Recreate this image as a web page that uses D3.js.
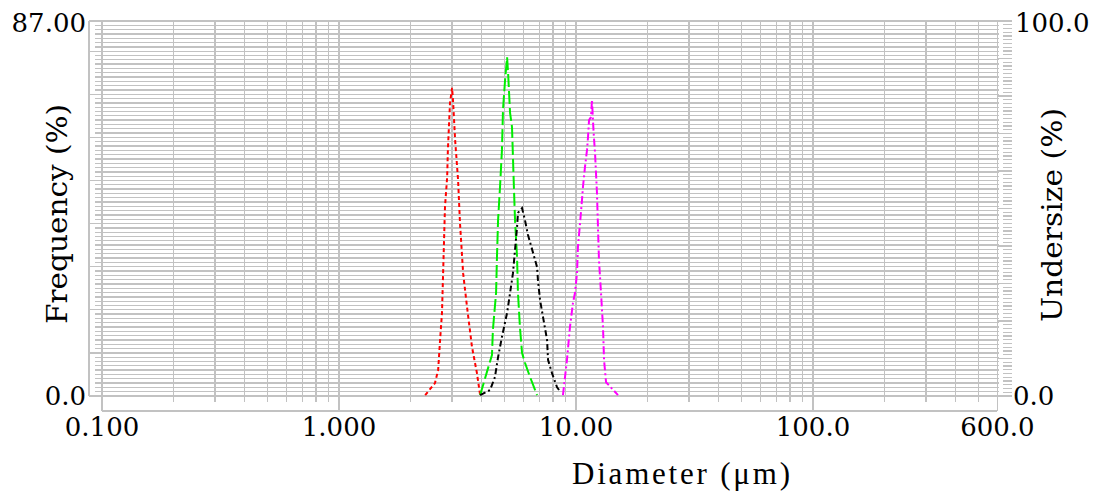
<!DOCTYPE html>
<html>
<head>
<meta charset="utf-8">
<script src="https://cdn.jsdelivr.net/npm/d3@7"></script>
<style>
  body { margin: 0; background: #fff; }
  .tick-label { font-family: "DejaVu Serif", serif; font-size: 26px; fill: #000; }
</style>
</head>
<body>
<script>
// x ticks (diameter, µm) and their labels
const xTicks = [0.1, 1, 10, 100, 600];
const xTickLabels = ["0.100", "1.000", "10.00", "100.0", "600.0"];

// series: [diameter µm, frequency %]
const redSeries = [[2.31,0.2],[2.54,3.0],[2.62,6.0],[2.67,13.0],[2.72,19.3],[2.75,28.5],[2.77,34.6],[2.80,43.8],[2.86,50.8],[2.88,57.1],[2.94,68.0],[3.00,71.5],[3.03,68.2],[3.09,59.4],[3.18,50.1],[3.24,40.1],[3.34,28.5],[3.47,20.6],[3.64,11.4],[3.82,5.3],[3.94,0.2]];
const greenSeries = [[3.94,0.2],[4.21,5.6],[4.42,9.5],[4.46,15.3],[4.60,23.9],[4.64,32.2],[4.69,40.8],[4.78,48.5],[4.87,57.1],[4.92,66.4],[5.02,73.3],[5.12,78.6],[5.17,74.9],[5.27,65.7],[5.37,62.4],[5.42,55.4],[5.47,48.5],[5.53,40.8],[5.64,32.2],[5.69,23.9],[5.80,16.0],[5.92,10.0],[6.09,7.7],[6.40,4.4],[6.85,0.2]];
const blackSeries = [[3.94,0.2],[4.34,1.4],[4.55,4.4],[4.69,9.0],[4.87,13.7],[5.12,19.3],[5.27,23.9],[5.42,28.5],[5.53,33.9],[5.64,39.2],[5.69,42.5],[5.92,43.6],[6.09,40.8],[6.27,37.4],[6.59,33.2],[6.85,29.9],[6.91,26.9],[7.05,22.3],[7.26,18.3],[7.55,13.0],[7.62,8.4],[7.92,5.3],[8.31,2.1],[8.48,1.4]];
const magentaSeries = [[8.81,0.2],[9.16,8.4],[9.43,16.0],[9.71,21.6],[9.90,23.9],[10.10,28.5],[10.19,34.6],[10.40,40.1],[10.60,45.5],[10.70,48.5],[10.91,53.1],[11.13,57.1],[11.24,60.1],[11.35,64.0],[11.57,64.7],[11.68,68.7],[11.80,63.6],[11.90,60.1],[12.03,56.4],[12.26,47.1],[12.38,39.2],[12.50,31.6],[12.75,23.9],[13.00,16.0],[13.13,8.4],[13.39,3.2],[15.04,0.2]];

const series = [
  { data: redSeries, color: "#ff0000", dash: "4,3" },
  { data: greenSeries, color: "#00ee00", dash: "13,4" },
  { data: blackSeries, color: "#000000", dash: "6,3,2,3" },
  { data: magentaSeries, color: "#ff00ff", dash: "8,3,2,3" }
];

const box = { left: 89, top: 21, bottom: 396, axisY: 411, right: 1012 };
const gridColor = "#c2c2c2";

const xScale = d3.scaleLog().domain([0.1, 600]).range([102, 102 + 237 * Math.log10(6000)]);
const yLeft = d3.scaleLinear().domain([0, 87]).range([box.bottom, box.top]);
const yRight = d3.scaleLinear().domain([0, 100]).range([box.bottom, box.top]);

const svg = d3.select("body")
  .append("svg")
  .attr("width", 1097)
  .attr("height", 491);

const grid = svg.append("g")
  .attr("stroke", gridColor)
  .attr("stroke-width", 1.3)
  .attr("shape-rendering", "crispEdges");

// horizontal lines, one per unit of frequency
grid.selectAll(".hline")
  .data(d3.range(0, 88))
  .enter()
  .append("line")
  .attr("x1", (d) => d % 10 === 0 ? box.left : 95)
  .attr("x2", xScale(600) + 2)
  .attr("y1", (d) => yLeft(d))
  .attr("y2", (d) => yLeft(d));

// right axis ticks
grid.selectAll(".rtick")
  .data(d3.range(0, 101))
  .enter()
  .append("line")
  .attr("x1", (d) => d % 10 === 0 ? xScale(600) : 1003)
  .attr("x2", box.right)
  .attr("y1", (d) => yRight(d))
  .attr("y2", (d) => yRight(d));

// vertical lines for each decade step
const vTicks = [];
[0.1, 1, 10, 100].forEach((dec) => {
  for (let m = 1; m <= 9; m++) {
    const v = +(dec * m).toPrecision(3);
    if (v <= 600) vTicks.push(v);
  }
});

grid.selectAll(".vline")
  .data(vTicks)
  .enter()
  .append("line")
  .attr("x1", (d) => xScale(d))
  .attr("x2", (d) => xScale(d))
  .attr("y1", box.top)
  .attr("y2", (d) => (xTicks.indexOf(d) >= 0) ? box.axisY : 402);

// frame
grid.append("line").attr("x1", box.left).attr("x2", box.left).attr("y1", box.top).attr("y2", box.bottom);
grid.append("line").attr("x1", box.left).attr("x2", box.right).attr("y1", box.top).attr("y2", box.top);
grid.append("line").attr("x1", xScale(0.1)).attr("x2", xScale(600)).attr("y1", box.axisY).attr("y2", box.axisY);

// curves
const line = d3.line()
  .x((d) => xScale(d[0]))
  .y((d) => yLeft(d[1]));

svg.selectAll(".curve")
  .data(series)
  .enter()
  .append("path")
  .attr("class", "curve")
  .attr("d", (d) => line(d.data))
  .attr("fill", "none")
  .attr("stroke", (d) => d.color)
  .attr("stroke-width", 2)
  .attr("stroke-dasharray", (d) => d.dash);

// tick labels
svg.selectAll(".xlab")
  .data(xTicks)
  .enter()
  .append("text")
  .attr("class", "tick-label")
  .attr("x", (d) => xScale(d))
  .attr("y", 436)
  .attr("text-anchor", "middle")
  .text((d, i) => xTickLabels[i]);

svg.append("text").attr("class", "tick-label").attr("x", 86).attr("y", 32).attr("text-anchor", "end").text("87.00");
svg.append("text").attr("class", "tick-label").attr("x", 86).attr("y", 405).attr("text-anchor", "end").text("0.0");
svg.append("text").attr("class", "tick-label").attr("x", 1015).attr("y", 32).text("100.0");
svg.append("text").attr("class", "tick-label").attr("x", 1013).attr("y", 405).text("0.0");

// axis titles
svg.append("text")
  .attr("transform", "translate(67,214) rotate(-90)")
  .attr("text-anchor", "middle")
  .attr("textLength", 220)
  .attr("lengthAdjust", "spacingAndGlyphs")
  .style("font-family", "'DejaVu Serif', serif")
  .style("font-size", "28px")
  .text("Frequency (%)");

svg.append("text")
  .attr("transform", "translate(1062,215) rotate(-90)")
  .attr("text-anchor", "middle")
  .attr("textLength", 214)
  .attr("lengthAdjust", "spacingAndGlyphs")
  .style("font-family", "'DejaVu Serif', serif")
  .style("font-size", "28px")
  .text("Undersize (%)");

svg.append("text")
  .attr("x", 681)
  .attr("y", 484)
  .attr("text-anchor", "middle")
  .attr("textLength", 218)
  .attr("lengthAdjust", "spacing")
  .style("font-family", "'Liberation Serif', serif")
  .style("font-size", "31px")
  .text("Diameter (μm)");
</script>
</body>
</html>
